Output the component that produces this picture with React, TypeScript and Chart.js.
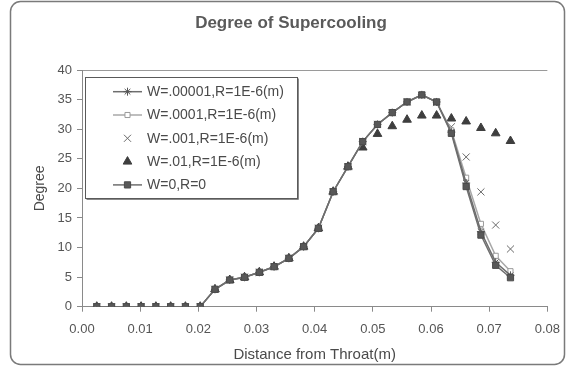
import React, { useEffect, useRef } from 'react';
import { Chart, registerables } from 'chart.js';

Chart.register(...registerables);

// ---------- data ----------
const chartTitle = 'Degree of Supercooling';
const xAxisTitle = 'Distance from Throat(m)';
const yAxisTitle = 'Degree';

const distance = [
  0.00254, 0.00508, 0.00762, 0.01016, 0.0127, 0.01524, 0.01778, 0.02032, 0.02286, 0.0254,
  0.02794, 0.03048, 0.03302, 0.03556, 0.0381, 0.04064, 0.04318, 0.04572, 0.04826, 0.0508,
  0.05334, 0.05588, 0.05842, 0.06096, 0.0635, 0.06604, 0.06858, 0.07112, 0.07366,
];

const seriesW00001 = [
  0, 0, 0, 0, 0, 0, 0, 0, 2.94, 4.51, 4.97, 5.81, 6.76, 8.18, 10.14, 13.25, 19.43, 23.66,
  27.9, 30.8, 32.8, 34.6, 35.8, 34.6, 29.5, 20.9, 12.7, 7.5, 5.3,
];
const seriesW0001 = [
  0, 0, 0, 0, 0, 0, 0, 0, 2.94, 4.51, 4.97, 5.81, 6.76, 8.18, 10.14, 13.25, 19.43, 23.66,
  27.9, 30.8, 32.8, 34.6, 35.8, 34.6, 29.8, 21.8, 14.0, 8.6, 6.0,
];
const seriesW001 = [
  0, 0, 0, 0, 0, 0, 0, 0, 2.94, 4.51, 4.97, 5.81, 6.76, 8.18, 10.14, 13.25, 19.43, 23.66,
  27.9, 30.8, 32.8, 34.6, 35.7, 34.5, 30.4, 25.3, 19.4, 13.8, 9.75,
];
const seriesW01 = [
  0, 0, 0, 0, 0, 0, 0, 0, 2.94, 4.51, 4.97, 5.81, 6.76, 8.18, 10.14, 13.25, 19.43, 23.66,
  26.9, 29.2, 30.5, 31.6, 32.3, 32.3, 31.8, 31.3, 30.2, 29.3, 28.0,
];
const seriesW0 = [
  0, 0, 0, 0, 0, 0, 0, 0, 2.94, 4.51, 4.97, 5.81, 6.76, 8.18, 10.14, 13.25, 19.43, 23.66,
  27.9, 30.8, 32.8, 34.6, 35.8, 34.6, 29.3, 20.3, 12.1, 7.0, 4.9,
];

const seriesLabels = [
  'W=.00001,R=1E-6(m)',
  'W=.0001,R=1E-6(m)',
  'W=.001,R=1E-6(m)',
  'W=.01,R=1E-6(m)',
  'W=0,R=0',
];

const xTicks = [0, 0.01, 0.02, 0.03, 0.04, 0.05, 0.06, 0.07, 0.08];
const yTicks = [0, 5, 10, 15, 20, 25, 30, 35, 40];

const FONT = "'Liberation Sans', Arial, sans-serif";

type Style = {
  pointStyle: string;
  radius: number;
  fill: string;
  stroke: string;
  line: string | null;
};

const styles: Style[] = [
  { pointStyle: 'star', radius: 4, fill: '#555', stroke: '#555', line: '#6e6e6e' },
  { pointStyle: 'rect', radius: 3.6, fill: '#ffffff', stroke: '#9a9a9a', line: '#a8a8a8' },
  { pointStyle: 'crossRot', radius: 5, fill: '#777', stroke: '#6a6a6a', line: null },
  { pointStyle: 'triangle', radius: 5, fill: '#3e3e3e', stroke: '#3e3e3e', line: null },
  { pointStyle: 'rect', radius: 4.4, fill: '#585858', stroke: '#4a4a4a', line: '#6e6e6e' },
];

const seriesValues = [seriesW00001, seriesW0001, seriesW001, seriesW01, seriesW0];
const drawOrder = [1, 2, 3, 4, 0];

function drawMarker(ctx: CanvasRenderingContext2D, st: Style, x: number, y: number) {
  const r = st.radius;
  ctx.save();
  ctx.fillStyle = st.fill;
  ctx.strokeStyle = st.stroke;
  ctx.lineWidth = 1;
  ctx.beginPath();
  if (st.pointStyle === 'rect') {
    const s = Math.SQRT1_2 * r;
    ctx.rect(x - s, y - s, 2 * s, 2 * s);
    ctx.fill();
    ctx.stroke();
  } else if (st.pointStyle === 'triangle') {
    ctx.moveTo(x, y - r);
    ctx.lineTo(x + 0.866 * r, y + 0.5 * r);
    ctx.lineTo(x - 0.866 * r, y + 0.5 * r);
    ctx.closePath();
    ctx.fill();
    ctx.stroke();
  } else if (st.pointStyle === 'crossRot') {
    const o = Math.SQRT1_2 * r;
    ctx.moveTo(x - o, y - o);
    ctx.lineTo(x + o, y + o);
    ctx.moveTo(x - o, y + o);
    ctx.lineTo(x + o, y - o);
    ctx.stroke();
  } else if (st.pointStyle === 'star') {
    const o = Math.SQRT1_2 * r;
    ctx.moveTo(x - o, y - o);
    ctx.lineTo(x + o, y + o);
    ctx.moveTo(x - o, y + o);
    ctx.lineTo(x + o, y - o);
    ctx.moveTo(x - r, y);
    ctx.lineTo(x + r, y);
    ctx.moveTo(x, y - r);
    ctx.lineTo(x, y + r);
    ctx.stroke();
  }
  ctx.restore();
}

const framePlugin = {
  id: 'frame',
  beforeDraw(chart: any) {
    const ctx: CanvasRenderingContext2D = chart.ctx;
    ctx.save();
    ctx.fillStyle = '#ffffff';
    ctx.fillRect(0, 0, chart.width, chart.height);
    const x0 = 10.5, y0 = 1.5, x1 = 564.5, y1 = 364.5, rad = 10;
    ctx.beginPath();
    ctx.moveTo(x0 + rad, y0);
    ctx.arcTo(x1, y0, x1, y1, rad);
    ctx.arcTo(x1, y1, x0, y1, rad);
    ctx.arcTo(x0, y1, x0, y0, rad);
    ctx.arcTo(x0, y0, x1, y0, rad);
    ctx.closePath();
    ctx.strokeStyle = '#7a7a7a';
    ctx.lineWidth = 1.5;
    ctx.stroke();
    ctx.restore();
  },
};

const legendPlugin = {
  id: 'boxLegend',
  afterDraw(chart: any) {
    const ctx: CanvasRenderingContext2D = chart.ctx;
    const bx = 85.5, by = 77.5, bw = 212, bh = 121;
    ctx.save();
    ctx.fillStyle = '#ffffff';
    ctx.fillRect(bx, by, bw, bh);
    ctx.strokeStyle = '#5a5a5a';
    ctx.lineWidth = 1;
    ctx.strokeRect(bx, by, bw, bh);
    ctx.beginPath();
    ctx.moveTo(bx + 1, by + bh + 1);
    ctx.lineTo(bx + bw + 1, by + bh + 1);
    ctx.lineTo(bx + bw + 1, by + 1);
    ctx.strokeStyle = '#8a8a8a';
    ctx.stroke();
    ctx.font = `14px ${FONT}`;
    ctx.textBaseline = 'middle';
    ctx.textAlign = 'left';
    seriesLabels.forEach((label, i) => {
      const rowY = 91.7 + i * 23.3;
      const st = styles[i];
      if (st.line) {
        ctx.beginPath();
        ctx.moveTo(113, rowY);
        ctx.lineTo(142, rowY);
        ctx.strokeStyle = st.line;
        ctx.lineWidth = 1.5;
        ctx.stroke();
      }
      drawMarker(ctx, st, 127.5, rowY);
      ctx.fillStyle = '#4a4a4a';
      ctx.fillText(label, 147, rowY + 0.5);
    });
    ctx.restore();
  },
};

export default function App() {
  const ref = useRef<HTMLCanvasElement>(null);

  useEffect(() => {
    const canvas = ref.current;
    if (!canvas) return;
    const datasets = seriesLabels.map((label, i) => {
      const st = styles[i];
      return {
        label,
        data: distance.map((x, k) => ({ x, y: seriesValues[i][k] })),
        showLine: !!st.line,
        borderColor: st.line || st.stroke,
        borderWidth: 1.5,
        pointStyle: st.pointStyle,
        pointRadius: st.radius,
        pointBackgroundColor: st.fill,
        pointBorderColor: st.stroke,
        pointBorderWidth: 1,
        order: drawOrder[i],
      };
    });

    const chart = new Chart(canvas, {
      type: 'scatter',
      data: { datasets: datasets as any },
      options: {
        responsive: false,
        animation: false,
        devicePixelRatio: 1,
        layout: { padding: { left: 32, right: 20, top: 0, bottom: 0 } },
        plugins: {
          legend: { display: false },
          tooltip: { enabled: false },
          title: {
            display: true,
            text: chartTitle,
            color: '#5a5a5a',
            font: { family: FONT, size: 17, weight: 'bold' },
            padding: { top: 13.1, bottom: 36.5 },
          },
        },
        scales: {
          x: {
            type: 'linear',
            min: 0,
            max: 0.08,
            afterBuildTicks: (s: any) => {
              s.ticks = xTicks.map((v) => ({ value: v }));
            },
            afterFit: (s: any) => {
              s.height = 60.3;
            },
            ticks: {
              color: '#555',
              font: { family: FONT, size: 13 },
              padding: 10,
              maxRotation: 0,
              autoSkip: false,
              callback: (v: any) => Number(v).toFixed(2),
            },
            grid: {
              drawOnChartArea: false,
              drawTicks: true,
              tickLength: 5,
              tickColor: '#8a8a8a',
            },
            border: { display: true, color: '#8a8a8a', width: 1 },
            title: {
              display: true,
              text: xAxisTitle,
              color: '#4a4a4a',
              font: { family: FONT, size: 15 },
              padding: { top: 0, bottom: 3 },
            },
          },
          y: {
            type: 'linear',
            min: 0,
            max: 40,
            afterBuildTicks: (s: any) => {
              s.ticks = yTicks.map((v) => ({ value: v }));
            },
            afterFit: (s: any) => {
              s.width = 50;
            },
            ticks: {
              color: '#555',
              font: { family: FONT, size: 13 },
              padding: 5,
              autoSkip: false,
            },
            grid: {
              drawOnChartArea: true,
              color: (c: any) => (c.tick && c.tick.value === 40 ? '#9a9a9a' : 'rgba(0,0,0,0)'),
              drawTicks: true,
              tickLength: 5,
              tickColor: '#8a8a8a',
            },
            border: { display: true, color: '#8a8a8a', width: 1 },
            title: {
              display: true,
              text: yAxisTitle,
              color: '#4a4a4a',
              font: { family: FONT, size: 14 },
              padding: { top: 0, bottom: 0 },
            },
          },
        },
      },
      plugins: [framePlugin, legendPlugin],
    } as any);

    return () => chart.destroy();
  }, []);

  return (
    <div style={{ position: 'absolute', left: 0, top: 0, width: 570, height: 367 }}>
      <canvas ref={ref} width={570} height={367} style={{ display: 'block', width: 570, height: 367 }} />
    </div>
  );
}
